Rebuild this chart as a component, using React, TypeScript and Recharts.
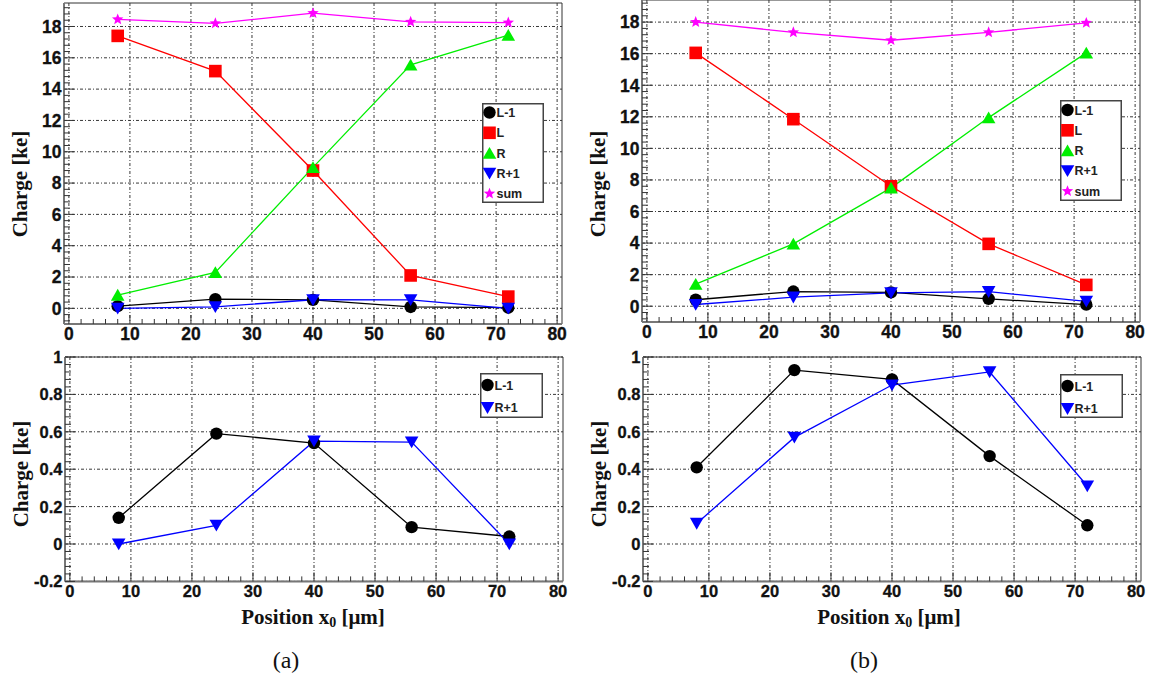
import React from "react";
import { CartesianGrid, Legend, Line, LineChart, ReferenceArea, XAxis, YAxis } from "recharts";

// x positions of the scan points [µm]
const POSITIONS = [8, 24, 40, 56, 72];

// panel (a)
const A_L1 = [0.14, 0.59, 0.54, 0.09, 0.04];
const A_L = [17.4, 15.15, 8.8, 2.1, 0.75];
const A_R = [0.85, 2.3, 9.0, 15.55, 17.45];
const A_R1 = [0.0, 0.1, 0.55, 0.545, 0.0];
const A_SUM = [18.45, 18.2, 18.85, 18.3, 18.25];

// panel (b)
const B_L1 = [0.41, 0.93, 0.88, 0.47, 0.1];
const B_L = [16.05, 11.85, 7.6, 3.95, 1.35];
const B_R = [1.4, 3.95, 7.5, 11.95, 16.05];
const B_R1 = [0.11, 0.57, 0.85, 0.92, 0.31];
const B_SUM = [18.0, 17.35, 16.85, 17.35, 17.95];

const X_LABELS = [0, 10, 20, 30, 40, 50, 60, 70, 80];
const TOP_Y_LABELS = [0, 2, 4, 6, 8, 10, 12, 14, 16, 18];
const BOTTOM_Y_LABELS = [-0.2, 0, 0.2, 0.4, 0.6, 0.8, 1];

const X_DOMAIN: [number, number] = [-0.8, 80.8];

const TICK_FONT = "'Liberation Sans', Arial, sans-serif";
const TITLE_FONT = "'Liberation Serif', 'Times New Roman', serif";
const TICK_GAP = 4;

type Shape = "circle" | "square" | "triUp" | "triDown" | "star";
interface SeriesDef {
  key: string;
  name: string;
  color: string;
  shape: Shape;
}

const SERIES_ALL: SeriesDef[] = [
  { key: "l1", name: "L-1", color: "#000000", shape: "circle" },
  { key: "l", name: "L", color: "#ff0000", shape: "square" },
  { key: "r", name: "R", color: "#00ee00", shape: "triUp" },
  { key: "r1", name: "R+1", color: "#0000ff", shape: "triDown" },
  { key: "sum", name: "sum", color: "#ff00ff", shape: "star" },
];
const SERIES_SIDE = SERIES_ALL.filter((s) => s.key === "l1" || s.key === "r1");

function buildRows(l1: number[], l: number[], r: number[], r1: number[], sum: number[]) {
  return POSITIONS.map((x, i) => ({ x, l1: l1[i], l: l[i], r: r[i], r1: r1[i], sum: sum[i] }));
}

const DATA_A = buildRows(A_L1, A_L, A_R, A_R1, A_SUM);
const DATA_B = buildRows(B_L1, B_L, B_R, B_R1, B_SUM);

function steps(from: number, to: number, step: number) {
  const out: number[] = [];
  const n = Math.round((to - from) / step);
  for (let i = 0; i <= n; i++) out.push(Number((from + i * step).toFixed(4)));
  return out;
}

const X_MINOR = steps(0, 80, 2);
const TOP_Y_MINOR = steps(-0.8, 19.2, 0.4);
const BOTTOM_Y_MINOR = steps(-0.2, 1, 0.04);

const findMajor = (v: number, majors: number[]) => majors.find((m) => Math.abs(m - v) < 1e-6);

function toPx(axis: any, v: number) {
  const s = axis?.scale;
  if (!s) return NaN;
  if (typeof s === "function") return s(v);
  if (typeof s.map === "function") return s.map(v);
  return NaN;
}

function Marker({ cx, cy, shape, color }: { cx: number; cy: number; shape: Shape; color: string }) {
  if (cx == null || cy == null) return null;
  switch (shape) {
    case "circle":
      return <circle cx={cx} cy={cy} r={6.2} fill={color} />;
    case "square":
      return <rect x={cx - 6.3} y={cy - 6.3} width={12.6} height={12.6} fill={color} />;
    case "triUp":
      return <polygon points={`${cx - 6.8},${cy + 5.6} ${cx + 6.8},${cy + 5.6} ${cx},${cy - 6.2}`} fill={color} />;
    case "triDown":
      return <polygon points={`${cx - 6.8},${cy - 5.6} ${cx + 6.8},${cy - 5.6} ${cx},${cy + 6.2}`} fill={color} />;
    case "star": {
      const pts: string[] = [];
      for (let i = 0; i < 10; i++) {
        const r = i % 2 === 0 ? 6 : 2.6;
        const a = -Math.PI / 2 + (i * Math.PI) / 5;
        pts.push(`${cx + r * Math.cos(a)},${cy + r * Math.sin(a)}`);
      }
      return <polygon points={pts.join(" ")} fill={color} />;
    }
  }
  return null;
}

function XTick({ x, y, payload, fontSize }: any) {
  const major = findMajor(payload.value, X_LABELS);
  const base = y - TICK_GAP;
  return (
    <g>
      <line x1={x} x2={x} y1={base} y2={base - (major !== undefined ? 9 : 5)} stroke="#333" strokeWidth={1} />
      {major !== undefined && (
        <text x={x} y={base + 9.5 + fontSize * 0.36} textAnchor="middle" fontFamily={TICK_FONT} fontWeight={700} fontSize={fontSize} fill="#111" stroke="#111" strokeWidth={0.3}>
          {major}
        </text>
      )}
    </g>
  );
}

function YTick({ x, y, payload, majors, fontSize }: any) {
  const major = findMajor(payload.value, majors);
  const base = x + TICK_GAP;
  return (
    <g>
      <line x1={base} x2={base + (major !== undefined ? 10 : 6)} y1={y} y2={y} stroke="#333" strokeWidth={1} />
      {major !== undefined && (
        <text x={base - 2.5} y={y + fontSize * 0.36} textAnchor="end" fontFamily={TICK_FONT} fontWeight={700} fontSize={fontSize} fill="#111" stroke="#111" strokeWidth={0.3}>
          {major}
        </text>
      )}
    </g>
  );
}

function YTitle({ cx, cy }: any) {
  return (
    <text x={cx} y={cy} transform={`rotate(-90 ${cx} ${cy})`} textAnchor="middle" dominantBaseline="central" fontFamily={TITLE_FONT} fontWeight={700} fontSize={21} fill="#111">
      Charge [ke]
    </text>
  );
}

function XTitle({ cx, cy }: any) {
  return (
    <text x={cx} y={cy} textAnchor="middle" dominantBaseline="central" fontFamily={TITLE_FONT} fontWeight={700} fontSize={21} fill="#111">
      Position x
      <tspan fontSize={14} dy={5}>0</tspan>
      <tspan dy={-5}> [μm]</tspan>
    </text>
  );
}

interface LegendGeom {
  left: number;
  top: number;
  width: number;
  height: number;
  firstRow: number;
  rowStep: number;
}

function LegendBox({ series, g }: { series: SeriesDef[]; g: LegendGeom }) {
  return (
    <svg width={g.width} height={g.height} style={{ display: "block" }}>
      <rect x={0.75} y={0.75} width={g.width - 1.5} height={g.height - 1.5} fill="#fff" stroke="#444" strokeWidth={1.5} />
      {series.map((s, i) => {
        const cy = g.firstRow + i * g.rowStep;
        return (
          <g key={s.key}>
            <Marker cx={7.5} cy={cy} shape={s.shape} color={s.color} />
            <text x={14.5} y={cy + 4.5} fontFamily={TICK_FONT} fontWeight={700} fontSize={12.5} fill="#222">
              {s.name}
            </text>
          </g>
        );
      })}
    </svg>
  );
}

interface PanelProps {
  data: any[];
  series: SeriesDef[];
  width: number;
  height: number;
  yAxisWidth: number;
  marginRight: number;
  marginTop: number;
  marginBottom: number;
  xAxisHeight: number;
  yDomain: [number, number];
  yLabels: number[];
  yMinor: number[];
  tickFont: number;
  yTitle: { cx: number; cy: number };
  xTitle?: { cx: number; cy: number };
  legend: LegendGeom;
}

function Panel(p: PanelProps) {
  return (
    <LineChart
      width={p.width}
      height={p.height}
      data={p.data}
      margin={{ top: p.marginTop, right: p.marginRight, left: 0, bottom: p.marginBottom }}
    >
      <CartesianGrid
        stroke="#222"
        strokeWidth={0.9}
        strokeDasharray="3 2 1 2"
        verticalCoordinatesGenerator={({ xAxis }: any) => X_LABELS.map((v) => toPx(xAxis, v)).filter((v) => Number.isFinite(v))}
        horizontalCoordinatesGenerator={({ yAxis }: any) => p.yLabels.map((v) => toPx(yAxis, v)).filter((v) => Number.isFinite(v))}
      />
      <ReferenceArea x1={X_DOMAIN[0]} x2={X_DOMAIN[1]} y1={p.yDomain[0]} y2={p.yDomain[1]} fill="none" stroke="#333" strokeWidth={1} />
      <XAxis
        dataKey="x"
        type="number"
        domain={X_DOMAIN}
        ticks={X_MINOR}
        interval={0}
        height={p.xAxisHeight}
        tickSize={0}
        tickMargin={TICK_GAP}
        tickLine={false}
        axisLine={{ stroke: "#777", strokeWidth: 2 }}
        tick={(t: any) => <XTick {...t} fontSize={p.tickFont} />}
        label={p.xTitle ? <XTitle cx={p.xTitle.cx} cy={p.xTitle.cy} /> : undefined}
      />
      <YAxis
        type="number"
        domain={p.yDomain}
        ticks={p.yMinor}
        interval={0}
        width={p.yAxisWidth}
        tickSize={0}
        tickMargin={TICK_GAP}
        tickLine={false}
        axisLine={{ stroke: "#777", strokeWidth: 2 }}
        tick={(t: any) => <YTick {...t} majors={p.yLabels} fontSize={p.tickFont} />}
        label={<YTitle cx={p.yTitle.cx} cy={p.yTitle.cy} />}
      />
      <Legend
        layout="horizontal"
        verticalAlign="middle"
        align="center"
        wrapperStyle={{ left: p.legend.left, top: p.legend.top, width: p.legend.width, height: p.legend.height, margin: 0 }}
        content={() => <LegendBox series={p.series} g={p.legend} />}
      />
      {p.series.map((s) => (
        <Line
          key={s.key}
          type="linear"
          dataKey={s.key}
          name={s.name}
          stroke={s.color}
          strokeWidth={1.3}
          dot={(d: any) => <Marker key={`${s.key}-${d.index}`} cx={d.cx} cy={d.cy} shape={s.shape} color={s.color} />}
          activeDot={false}
          isAnimationActive={false}
        />
      ))}
    </LineChart>
  );
}

const caption: React.CSSProperties = {
  position: "absolute",
  top: 645,
  width: 60,
  height: 30,
  lineHeight: "30px",
  textAlign: "center",
  fontFamily: TITLE_FONT,
  fontSize: 24,
  color: "#111",
};

export default function App() {
  return (
    <div style={{ position: "absolute", left: 0, top: 0, width: 1162, height: 681, background: "#fff", overflow: "hidden" }}>
      <div style={{ position: "absolute", left: 0, top: 0 }}>
        <Panel
          data={DATA_A}
          series={SERIES_ALL}
          width={580}
          height={345}
          yAxisWidth={64}
          marginRight={18}
          marginTop={3}
          marginBottom={0}
          xAxisHeight={21}
          yDomain={[-1, 19.5]}
          yLabels={TOP_Y_LABELS}
          yMinor={TOP_Y_MINOR}
          tickFont={17.5}
          yTitle={{ cx: 20, cy: 184 }}
          legend={{ left: 482, top: 103, width: 62, height: 100, firstRow: 9.5, rowStep: 20.3 }}
        />
      </div>
      <div style={{ position: "absolute", left: 580, top: 0 }}>
        <Panel
          data={DATA_B}
          series={SERIES_ALL}
          width={582}
          height={345}
          yAxisWidth={62}
          marginRight={22}
          marginTop={0}
          marginBottom={0}
          xAxisHeight={23}
          yDomain={[-1, 19.4]}
          yLabels={TOP_Y_LABELS}
          yMinor={TOP_Y_MINOR}
          tickFont={17.5}
          yTitle={{ cx: 18, cy: 184 }}
          legend={{ left: 480, top: 100, width: 62, height: 101, firstRow: 10, rowStep: 20.3 }}
        />
      </div>
      <div style={{ position: "absolute", left: 0, top: 345 }}>
        <Panel
          data={DATA_A}
          series={SERIES_SIDE}
          width={580}
          height={336}
          yAxisWidth={65}
          marginRight={17}
          marginTop={12}
          marginBottom={75.6}
          xAxisHeight={24}
          yDomain={[-0.2, 1]}
          yLabels={BOTTOM_Y_LABELS}
          yMinor={BOTTOM_Y_MINOR}
          tickFont={16.5}
          yTitle={{ cx: 21, cy: 129 }}
          xTitle={{ cx: 313, cy: 272 }}
          legend={{ left: 480, top: 28, width: 63, height: 45, firstRow: 12, rowStep: 22.7 }}
        />
      </div>
      <div style={{ position: "absolute", left: 580, top: 345 }}>
        <Panel
          data={DATA_B}
          series={SERIES_SIDE}
          width={582}
          height={336}
          yAxisWidth={63}
          marginRight={21}
          marginTop={12}
          marginBottom={75.6}
          xAxisHeight={24}
          yDomain={[-0.2, 1]}
          yLabels={BOTTOM_Y_LABELS}
          yMinor={BOTTOM_Y_MINOR}
          tickFont={16.5}
          yTitle={{ cx: 19, cy: 129 }}
          xTitle={{ cx: 309, cy: 272 }}
          legend={{ left: 480, top: 29, width: 63, height: 44, firstRow: 12, rowStep: 22.7 }}
        />
      </div>
      <div style={{ ...caption, left: 256 }}>(a)</div>
      <div style={{ ...caption, left: 834 }}>(b)</div>
    </div>
  );
}
